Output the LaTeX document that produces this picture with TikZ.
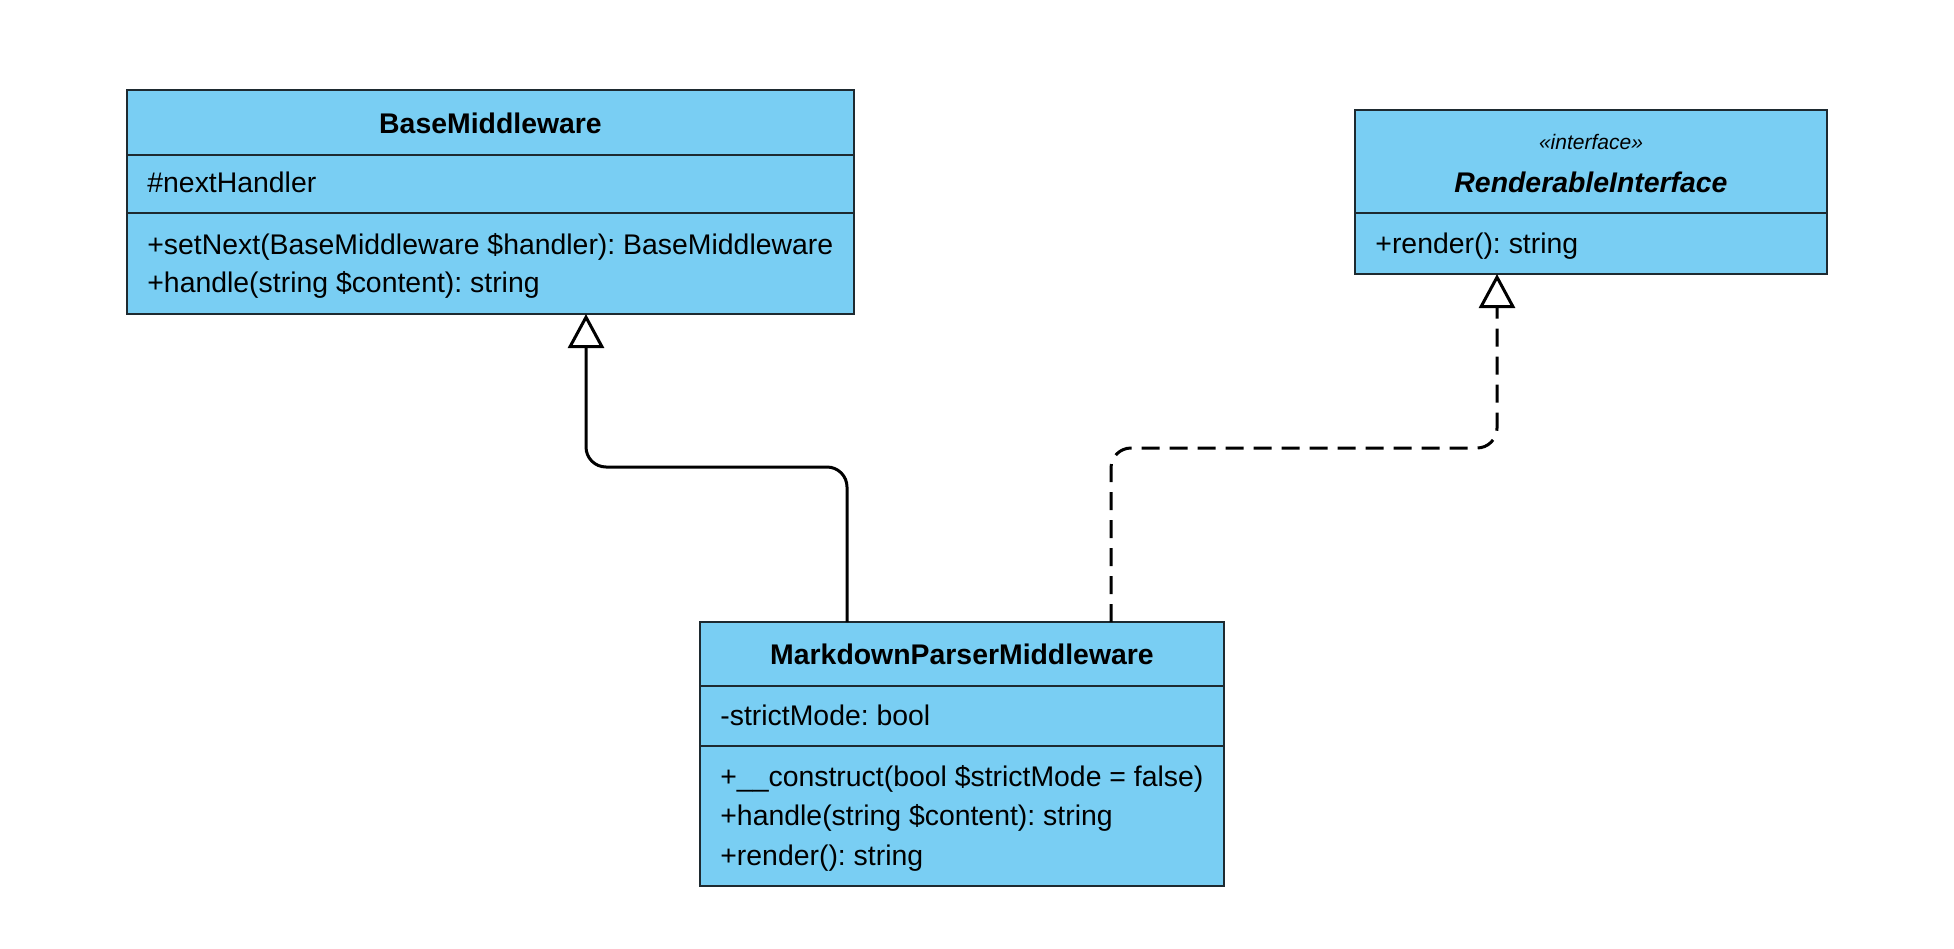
\documentclass[tikz,border=0pt]{standalone}
\usepackage{fontspec}
\setmainfont{Liberation Sans}
\usetikzlibrary{arrows.meta}
\frenchspacing
\definecolor{boxfill}{HTML}{79CEF3}
\definecolor{boxline}{HTML}{1E2A30}
\tikzset{
  umlbox/.style={draw=boxline, fill=boxfill, line width=1.3pt, inner sep=0pt, outer sep=0pt},
  divline/.style={draw=boxline, line width=1.3pt},
  txt/.style={inner sep=0pt, anchor=west, text height=0.75em, text depth=0.25em, font=\fontsize{14.2}{17}\selectfont},
  ttl/.style={inner sep=0pt, text height=0.75em, text depth=0.25em, font=\fontsize{14.2}{17}\selectfont\bfseries},
  stereo/.style={inner sep=0pt, text height=0.75em, text depth=0.25em, font=\fontsize{10.5}{13}\selectfont\itshape},
  gen/.style={line width=1.5pt, black, rounded corners=10pt, -{Triangle[open, length=17pt, width=18pt, line width=1.5pt, fill=white]}},
  real/.style={gen, dash pattern=on 9pt off 5pt}
}
\begin{document}
\begin{tikzpicture}[x=0.5pt,y=-0.5pt]
\useasboundingbox (0,0) rectangle (1954,948);
% BaseMiddleware
\node[umlbox, minimum width=363.5pt, minimum height=112pt] (base) at (490.5,202) {};
\draw[divline] (127,155) -- (854,155);
\draw[divline] (127,213) -- (854,213);
\node[ttl] (baseT) at (490.5,128) {BaseMiddleware};
\node[txt] (baseA) at (147,187) {\#nextHandler};
\node[txt] (baseM1) at (147,249) {+setNext(BaseMiddleware \$handler): BaseMiddleware};
\node[txt] (baseM2) at (147,287) {+handle(string \$content): string};
% RenderableInterface
\node[umlbox, minimum width=236pt, minimum height=82pt] (iface) at (1591,192) {};
\draw[divline] (1355,213) -- (1827,213);
\node[stereo] (ifS) at (1591,144) {«interface»};
\node[ttl, font=\fontsize{14.2}{17}\selectfont\bfseries\itshape] (ifT) at (1591,187) {RenderableInterface};
\node[txt] (ifM1) at (1375,248) {+render(): string};
% MarkdownParserMiddleware
\node[umlbox, minimum width=262pt, minimum height=132pt] (md) at (962,754) {};
\draw[divline] (700,686) -- (1224,686);
\draw[divline] (700,746) -- (1224,746);
\node[ttl] (mdT) at (962,659) {MarkdownParserMiddleware};
\node[txt] (mdA) at (720,720) {-strictMode: bool};
\node[txt] (mdM1) at (720,781) {+\_\_construct(bool \$strictMode = false)};
\node[txt] (mdM2) at (720,820) {+handle(string \$content): string};
\node[txt] (mdM3) at (720,860) {+render(): string};
% connectors
\coordinate (j1) at (586,467);
\coordinate (j2) at (1497,448);
\draw[gen] ([xshift=-57.5pt]md.north) |- (j1) -- (j1 |- base.south);
\draw[real] ([xshift=74.5pt]md.north) |- (j2) -- (j2 |- iface.south);
\end{tikzpicture}
\end{document}
